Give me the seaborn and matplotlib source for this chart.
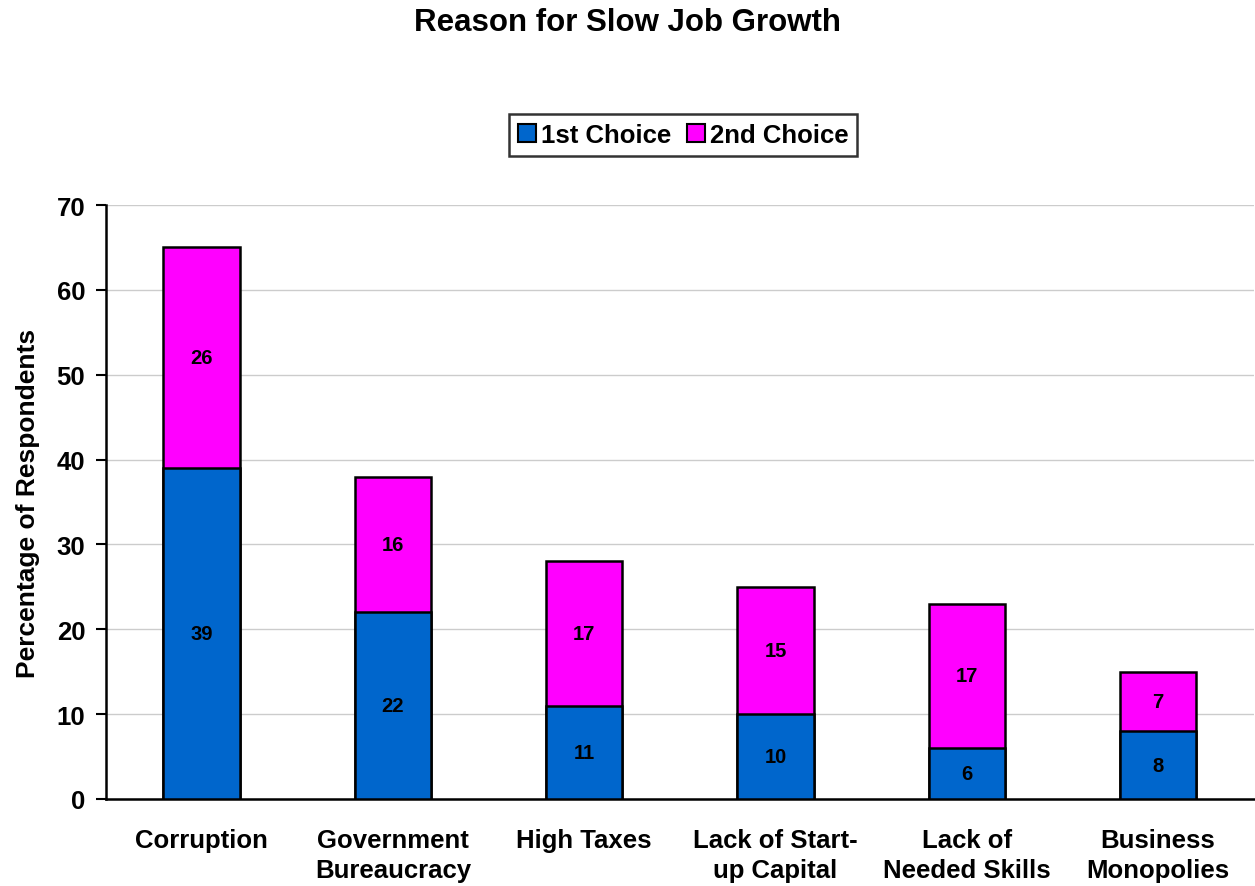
import matplotlib
matplotlib.use("Agg")
import matplotlib.pyplot as plt
import seaborn as sns
import pandas as pd
import numpy as np
from matplotlib.patches import Patch

categories = ["Corruption", "Government\nBureaucracy", "High Taxes",
              "Lack of Start-\nup Capital", "Lack of\nNeeded Skills", "Business\nMonopolies"]
first_choice = [39, 22, 11, 10, 6, 8]
second_choice = [26, 16, 17, 15, 17, 7]
series_names = ["1st Choice", "2nd Choice"]
y_ticks = [0, 10, 20, 30, 40, 50, 60, 70]

BLUE = "#0066CC"
MAGENTA = "#FF00FF"

sns.set_style("white")
plt.rcParams["font.family"] = ["Liberation Sans", "DejaVu Sans"]
plt.rcParams["font.weight"] = "bold"
for key in ["text.color", "axes.labelcolor", "xtick.color", "ytick.color"]:
    plt.rcParams[key] = "black"

df = pd.DataFrame({
    "category": categories,
    "first": first_choice,
    "second": second_choice,
})
df["total"] = df["first"] + df["second"]

fig = plt.figure(figsize=(12.55, 8.87), dpi=100)
ax = fig.add_axes([106 / 1255, 1 - 800 / 887, 1 - 106 / 1255 - 0.001, (800 - 206) / 887])

# stacked bars: full height in magenta, then 1st choice in blue over it
sns.barplot(data=df, x="category", y="total", color=MAGENTA, width=0.4,
            edgecolor="black", linewidth=1.8, saturation=1, ax=ax, zorder=3)
sns.barplot(data=df, x="category", y="first", color=BLUE, width=0.4,
            edgecolor="black", linewidth=1.8, saturation=1, ax=ax, zorder=3)

for i, (a, b) in enumerate(zip(first_choice, second_choice)):
    ax.text(i, a / 2, str(a), ha="center", va="center", fontsize=14.5,
            fontweight="bold", color="black", zorder=5)
    ax.text(i, a + b / 2, str(b), ha="center", va="center", fontsize=14.5,
            fontweight="bold", color="black", zorder=5)

ax.set_ylim(0, 70)
ax.set_xlim(-0.5, len(categories) - 0.5)
ax.set_yticks(y_ticks)
ax.set_yticklabels([str(t) for t in y_ticks], fontsize=18.5, fontweight="bold")
ax.yaxis.grid(True, color="#cccccc", linewidth=1, zorder=0)
ax.set_axisbelow(True)

# major ticks at category boundaries, labels on minor ticks at centres
ax.set_xticks(np.arange(len(categories) + 1) - 0.5)
ax.set_xticklabels([])
ax.set_xticks(np.arange(len(categories)), minor=True)
ax.set_xticklabels(categories, minor=True, fontsize=18.5, fontweight="bold",
                   linespacing=1.3)
ax.tick_params(axis="x", which="major", direction="out", length=6, width=1.5, color="black")
ax.tick_params(axis="x", which="minor", length=0, pad=21)
ax.tick_params(axis="y", direction="out", length=7, width=1.5, color="black", pad=8, left=True)

ax.set_xlabel("")
ax.set_ylabel("Percentage of Respondents", fontsize=19, fontweight="bold", labelpad=12)

for side in ["top", "right"]:
    ax.spines[side].set_visible(False)
for side in ["left", "bottom"]:
    ax.spines[side].set_color("black")
    ax.spines[side].set_linewidth(1.8)

fig.text(0.5, 1 - 23 / 887, "Reason for Slow Job Growth", ha="center", va="center",
         fontsize=22.5, fontweight="bold")

handles = [Patch(facecolor=BLUE, edgecolor="black", linewidth=1.5),
           Patch(facecolor=MAGENTA, edgecolor="black", linewidth=1.5)]
leg = fig.legend(handles, series_names, loc="center", bbox_to_anchor=(683 / 1255, 1 - 136 / 887),
                 ncol=2, frameon=True, fancybox=False, edgecolor="black",
                 prop={"size": 18.5, "weight": "bold"}, handlelength=0.7, handleheight=0.7,
                 handletextpad=0.2, columnspacing=0.6, borderpad=0.35, borderaxespad=0)
leg.get_frame().set_linewidth(1.8)

fig.savefig("out.png", dpi=100)
